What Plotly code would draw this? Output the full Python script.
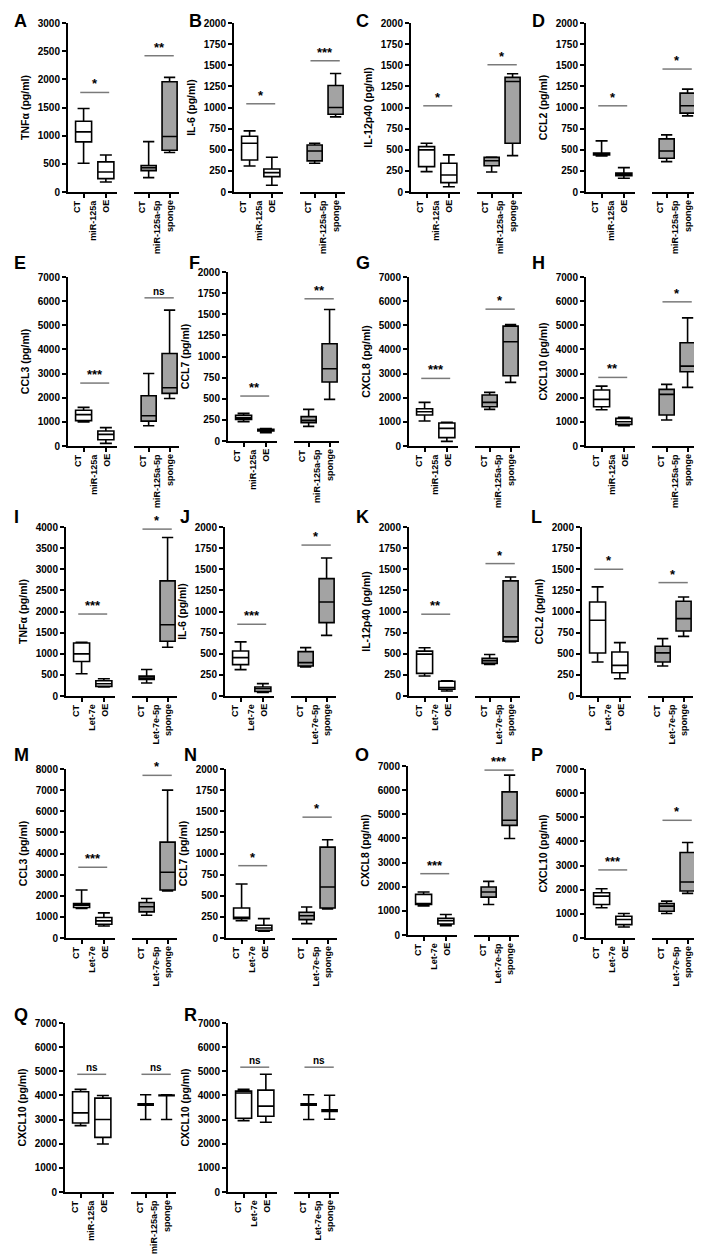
import plotly.graph_objects as go

# ---- data ----
letters = list("ABCDEFGHIJKLMNOPQR")
y_titles = ["TNFα (pg/ml)", "IL-6 (pg/ml)", "IL-12p40 (pg/ml)", "CCL2 (pg/ml)",
            "CCL3 (pg/ml)", "CCL7 (pg/ml)", "CXCL8 (pg/ml)", "CXCL10 (pg/ml)",
            "TNFα (pg/ml)", "IL-6 (pg/ml)", "IL-12p40 (pg/ml)", "CCL2 (pg/ml)",
            "CCL3 (pg/ml)", "CCL7 (pg/ml)", "CXCL8 (pg/ml)", "CXCL10 (pg/ml)",
            "CXCL10 (pg/ml)", "CXCL10 (pg/ml)"]
y_max = [3000, 2000, 2000, 2000, 7000, 2000, 7000, 7000,
         4000, 2000, 2000, 2000, 8000, 2000, 7000, 7000, 7000, 7000]
y_step = [500, 250, 250, 250, 1000, 250, 1000, 1000,
          500, 250, 250, 250, 1000, 250, 1000, 1000, 1000, 1000]

mir_oe = ["CT", "miR-125a<br>OE"]
mir_sponge = ["CT", "miR-125a-5p<br>sponge"]
let_oe = ["CT", "Let-7e<br>OE"]
let_sponge = ["CT", "Let-7e-5p<br>sponge"]
uses_let = [False] * 8 + [True] * 8 + [False, True]

# [min, q1, median, q3, max] for CT, OE, CT, sponge
A_box = [[510, 889, 1067, 1257, 1482], [178, 237, 356, 534, 658], [255, 380, 430, 470, 895], [700, 741, 984, 1957, 2034]]
B_box = [[308, 379, 577, 660, 723], [80, 182, 229, 273, 411], [340, 368, 486, 557, 577], [889, 921, 1000, 1261, 1403]]
C_box = [[241, 300, 498, 537, 577], [63, 111, 202, 340, 439], [237, 310, 370, 410, 415], [431, 577, 1308, 1356, 1399]]
D_box = [[427, 437, 447, 460, 605], [162, 194, 210, 225, 289], [360, 399, 486, 629, 676], [901, 933, 1020, 1170, 1217]]
E_box = [[1000, 1050, 1300, 1480, 1600], [110, 260, 480, 620, 760], [840, 1030, 1250, 2080, 3000], [1970, 2180, 2410, 3830, 5630]]
F_box = [[229, 256, 276, 303, 327], [99, 118, 128, 138, 146], [173, 217, 244, 288, 374], [493, 698, 855, 1151, 1557]]
G_box = [[1034, 1283, 1420, 1544, 1806], [193, 345, 731, 951, 979], [1517, 1627, 1806, 2110, 2220], [2634, 2910, 4316, 4964, 5033]]
H_box = [[1503, 1627, 1930, 2317, 2482], [841, 896, 1007, 1145, 1186], [1076, 1283, 2137, 2344, 2551], [2427, 3075, 3310, 4275, 5309]]
I_box = [[526, 817, 997, 1256, 1272], [212, 228, 290, 361, 408], [306, 393, 424, 471, 628], [1154, 1296, 1688, 2725, 3752]]
J_box = [[312, 371, 454, 533, 640], [43, 55, 85, 107, 146], [343, 355, 395, 525, 572], [718, 868, 1113, 1389, 1634]]
K_box = [[236, 268, 496, 531, 571], [59, 79, 100, 175, 180], [374, 386, 417, 445, 492], [642, 650, 700, 1362, 1409]]
L_box = [[403, 509, 896, 1113, 1291], [205, 276, 363, 521, 632], [355, 403, 510, 588, 679], [706, 770, 916, 1121, 1172]]
M_box = [[1397, 1444, 1556, 1635, 2270], [571, 651, 810, 968, 1190], [1079, 1238, 1476, 1683, 1873], [2222, 2270, 3111, 4540, 7000]]
N_box = [[205, 229, 244, 355, 639], [79, 91, 118, 150, 229], [170, 217, 264, 304, 367], [343, 355, 603, 1076, 1163]]
O_box = [[1208, 1264, 1300, 1681, 1778], [389, 458, 597, 694, 847], [1264, 1569, 1778, 1986, 2222], [4000, 4540, 4750, 5930, 6620]]
P_box = [[1250, 1389, 1736, 1875, 2042], [458, 556, 764, 903, 1014], [1014, 1111, 1320, 1431, 1528], [1847, 1944, 2320, 3542, 3958]]
Q_box = [[2750, 2861, 3278, 4150, 4250], [1986, 2264, 3000, 3889, 4000], [3000, 3600, 3625, 3650, 4028], [3000, 3990, 4000, 4020, 4028]]
R_box = [[2958, 3056, 4100, 4180, 4250], [2889, 3139, 3556, 4220, 4875], [3000, 3600, 3625, 3650, 4028], [3012, 3340, 3370, 3400, 4010]]
all_boxes = [A_box, B_box, C_box, D_box, E_box, F_box, G_box, H_box, I_box,
             J_box, K_box, L_box, M_box, N_box, O_box, P_box, Q_box, R_box]

# significance bars: level and label for (OE comparison, sponge comparison)
sig_level = [[1767, 2419], [1044, 1553], [1020, 1506], [1020, 1455],
             [2606, 6137], [532, 1683], [2800, 5668], [2841, 5971],
             [1940, 3950], [849, 1786], [968, 1567], [1500, 1342],
             [3349, 7700], [856, 1430], [2540, 6830], [2820, 4875],
             [4875, 4875], [5170, 5170]]
sig_text = [["*", "**"], ["*", "***"], ["*", "*"], ["*", "*"],
            ["***", "ns"], ["**", "**"], ["***", "*"], ["**", "*"],
            ["***", "*"], ["***", "*"], ["**", "*"], ["*", "*"],
            ["***", "*"], ["*", "*"], ["***", "***"], ["***", "*"],
            ["ns", "ns"], ["ns", "ns"]]

# ---- layout (pixels) ----
W, H = 702, 1254
PANEL_H = 169
panel_x0 = [60, 226, 403, 578, 60, 220, 401, 578, 58, 217, 401, 574, 58, 218, 400, 578, 57, 220]
panel_top = [15, 15, 15, 15, 269, 264, 269, 269, 519, 519, 519, 519, 761, 761, 758, 761, 1015, 1015]
letter_x = [4, 179, 346, 522, 4, 179, 346, 522, 4, 170, 346, 521, 4, 174, 345, 521, 4, 174]
letter_y = [13, 255, 509, 747, 1007]

FONT = "Liberation Sans, Arial, sans-serif"
GRAY = "#a3a3a3"
LINE_GAP = 13   # px between the lines of a rotated two-line label
LABEL_DX = -6   # correction for the offset of rotated annotations


def ref(prefix, n):
    return prefix if n == 1 else f"{prefix}{n}"


fig = go.Figure()
layout = {}
shapes = []
annotations = []

for i in range(18):
    x0 = panel_x0[i]
    top = panel_top[i]
    bottom = top + PANEL_H
    xa, xb, ya = 2 * i + 1, 2 * i + 2, i + 1
    lab1 = let_oe if uses_let[i] else mir_oe
    lab2 = let_sponge if uses_let[i] else mir_sponge
    stats = all_boxes[i]

    for k, (labels, fill, xn) in enumerate([(lab1, "white", xa), (lab2, GRAY, xb)]):
        s = stats[2 * k:2 * k + 2]
        fig.add_trace(go.Box(
            x=labels,
            lowerfence=[v[0] for v in s], q1=[v[1] for v in s], median=[v[2] for v in s],
            q3=[v[3] for v in s], upperfence=[v[4] for v in s],
            xaxis=ref("x", xn), yaxis=ref("y", ya),
            fillcolor=fill, line=dict(color="black", width=1.6),
            width=0.72, whiskerwidth=0.75, boxpoints=False,
            showlegend=False, hoverinfo="skip",
        ))
        # category labels, rotated, each line placed so the pair is centred on the tick
        for j, lab in enumerate(labels):
            parts = lab.split("<br>")
            n = len(parts)
            for m, part in enumerate(parts):
                annotations.append(dict(
                    xref=ref("x", xn), yref="paper", x=j, y=1 - (bottom + 6) / H,
                    xshift=(m - (n - 1) / 2) * LINE_GAP + LABEL_DX,
                    text=part, textangle=-90, showarrow=False,
                    xanchor="center", yanchor="top",
                    font=dict(family=FONT, size=9, color="black", weight="bold")))

    common_x = dict(type="category", anchor=ref("y", ya), showline=True, linewidth=2,
                    linecolor="black", ticks="outside", ticklen=4, tickwidth=2,
                    tickcolor="black", showticklabels=False, showgrid=False,
                    zeroline=False, automargin=False, fixedrange=True)
    layout[ref("xaxis", xa)] = dict(common_x, domain=[x0 / W, (x0 + 49) / W],
                                    categoryarray=lab1, range=[-0.7, 1.5])
    layout[ref("xaxis", xb)] = dict(common_x, domain=[(x0 + 66) / W, (x0 + 111) / W],
                                    categoryarray=lab2, range=[-0.7, 1.45])
    layout[ref("yaxis", ya)] = dict(
        anchor=ref("x", xa), domain=[1 - bottom / H, 1 - top / H],
        range=[0, y_max[i]], tick0=0, dtick=y_step[i],
        showline=True, linewidth=2, linecolor="black", ticks="outside", ticklen=4,
        tickwidth=2, tickcolor="black", showgrid=False, zeroline=False,
        automargin=False, fixedrange=True,
        tickfont=dict(family=FONT, size=10, color="black", weight="bold"),
        title=dict(text=y_titles[i], standoff=6,
                   font=dict(family=FONT, size=10.5, color="black", weight="bold")),
    )

    for k, (xn, span) in enumerate([(xa, (-0.15, 1.15)), (xb, (-0.2, 1.2))]):
        lvl = sig_level[i][k]
        shapes.append(dict(type="line", xref=ref("x", xn), yref=ref("y", ya),
                           x0=span[0], x1=span[1], y0=lvl, y1=lvl,
                           line=dict(color="#7a7a7a", width=1.5)))
        txt = sig_text[i][k]
        annotations.append(dict(xref=ref("x", xn), yref=ref("y", ya),
                                x=(span[0] + span[1]) / 2, y=lvl, text=txt,
                                showarrow=False, yanchor="bottom", yshift=-1,
                                font=dict(family=FONT, size=10 if txt == "ns" else 13,
                                          color="black", weight="bold")))

    annotations.append(dict(xref="paper", yref="paper",
                            x=letter_x[i] / W, y=1 - letter_y[i // 4] / H,
                            text=letters[i], showarrow=False,
                            xanchor="left", yanchor="middle",
                            font=dict(family=FONT, size=18, color="black", weight="bold")))

fig.update_layout(
    width=W, height=H,
    margin=dict(l=0, r=0, t=0, b=0),
    paper_bgcolor="white", plot_bgcolor="white",
    template="none", showlegend=False, boxmode="overlay",
    shapes=shapes, annotations=annotations,
    **layout,
)

fig.write_html("out.html")
